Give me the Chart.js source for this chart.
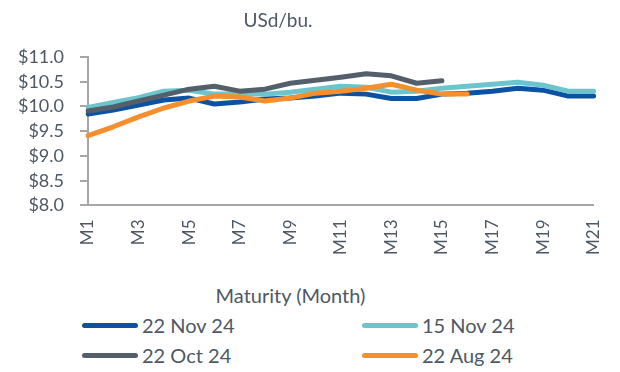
<!DOCTYPE html>
<html>
<head>
<meta charset="utf-8">
<script src="https://cdn.jsdelivr.net/npm/chart.js@4.4.1/dist/chart.umd.min.js"></script>
<style>
    html, body {
        margin: 0;
        padding: 0;
        background: #ffffff;
    }

    #wrap {
        position: relative;
        width: 620px;
        height: 372px;
        font-family: Lato, "Noto Sans", sans-serif;
        color: #4e5864;
    }

    #curveChart {
        position: absolute;
        left: 0;
        top: 0;
    }

    .title {
        position: absolute;
        left: 0;
        top: 8px;
        width: 556px;
        text-align: center;
        font-size: 19px;
    }

    .axisTitle {
        position: absolute;
        left: 0;
        top: 283px;
        width: 581px;
        text-align: center;
        font-size: 20px;
    }

    .legend {
        position: absolute;
        left: 82px;
        top: 313px;
        display: grid;
        grid-template-columns: 280px 200px;
        row-gap: 6px;
        font-size: 20px;
    }

    .legend span {
        display: flex;
        align-items: center;
        white-space: nowrap;
    }

    .legend i {
        display: inline-block;
        width: 56px;
        height: 5px;
        border-radius: 3px;
        margin-right: 4px;
    }
</style>
</head>
<body>
<div id="wrap">
    <canvas id="curveChart" width="620" height="261"></canvas>
    <div class="title">USd/bu.</div>
    <div class="axisTitle">Maturity (Month)</div>
    <div class="legend" id="legend"></div>
</div>
<script>
/*
 * Forward curves
 */

const months = [
    "M1", "M2", "M3", "M4", "M5", "M6", "M7",
    "M8", "M9", "M10", "M11", "M12", "M13", "M14",
    "M15", "M16", "M17", "M18", "M19", "M20", "M21"
];

const nov22 = [
    9.85, 9.93, 10.03, 10.13, 10.17, 10.05, 10.09,
    10.15, 10.17, 10.21, 10.27, 10.25, 10.16, 10.16,
    10.25, 10.27, 10.31, 10.37, 10.33, 10.21, 10.21
];

const nov15 = [
    9.98, 10.08, 10.18, 10.31, 10.33, 10.25, 10.25,
    10.25, 10.29, 10.35, 10.41, 10.39, 10.29, 10.31,
    10.37, 10.41, 10.45, 10.49, 10.43, 10.31, 10.31
];

const oct22 = [
    9.91, 9.99, 10.11, 10.23, 10.35, 10.41, 10.31,
    10.35, 10.47, 10.53, 10.59, 10.66, 10.62, 10.47,
    10.52
];

const aug22 = [
    9.41, 9.59, 9.79, 9.97, 10.11, 10.21, 10.19,
    10.11, 10.17, 10.27, 10.31, 10.37, 10.45, 10.33,
    10.25, 10.25
];

const yTicks = [8.0, 8.5, 9.0, 9.5, 10.0, 10.5, 11.0];

const series = [
    { label: "22 Nov 24", data: nov22, color: "#0b52a3", order: 4 },
    { label: "15 Nov 24", data: nov15, color: "#6cc4cc", order: 3 },
    { label: "22 Oct 24", data: oct22, color: "#555f6b", order: 2 },
    { label: "22 Aug 24", data: aug22, color: "#f58f2e", order: 1 }
];

const axisGrey = "#a6a6a6";
const textGrey = "#4e5864";

document.addEventListener(
    "DOMContentLoaded",
    () => {

        const canvas = document.getElementById("curveChart");

        new Chart(canvas, {
            type: "line",
            data: {
                labels: months,
                datasets: series.map(s => ({
                    label: s.label,
                    data: s.data,
                    order: s.order,
                    borderColor: s.color,
                    backgroundColor: s.color,
                    borderWidth: 5,
                    borderCapStyle: "round",
                    borderJoinStyle: "round",
                    pointRadius: 0,
                    tension: 0,
                    fill: false
                }))
            },
            options: {
                responsive: false,
                animation: false,
                layout: {
                    padding: { top: 57, right: 24, bottom: 0, left: 0 }
                },
                plugins: {
                    legend: { display: false },
                    tooltip: { enabled: false }
                },
                scales: {
                    x: {
                        offset: false,
                        grid: { display: false },
                        border: { color: axisGrey, width: 2 },
                        ticks: {
                            autoSkip: false,
                            maxRotation: 90,
                            minRotation: 90,
                            padding: 6,
                            color: textGrey,
                            font: { family: "Lato", size: 17 },
                            callback: (v, i) => i % 2 === 0 ? months[i] : ""
                        }
                    },
                    y: {
                        min: yTicks[0],
                        max: yTicks[yTicks.length - 1],
                        afterBuildTicks: axis => {
                            axis.ticks = yTicks.map(v => ({ value: v }));
                        },
                        afterFit: axis => {
                            axis.width = 88;
                        },
                        grid: {
                            drawOnChartArea: false,
                            drawTicks: true,
                            tickLength: 8,
                            color: axisGrey,
                            lineWidth: 2
                        },
                        border: { color: axisGrey, width: 2 },
                        ticks: {
                            padding: 16,
                            color: textGrey,
                            font: { family: "Lato", size: 18 },
                            callback: v => "$" + Number(v).toFixed(1)
                        }
                    }
                }
            }
        });

        // legend laid out as a two-column grid
        const legend = document.getElementById("legend");
        series.forEach(s => {
            const item = document.createElement("span");
            const swatch = document.createElement("i");
            swatch.style.background = s.color;
            item.appendChild(swatch);
            item.appendChild(document.createTextNode(s.label));
            legend.appendChild(item);
        });
    }
);
</script>
</body>
</html>
